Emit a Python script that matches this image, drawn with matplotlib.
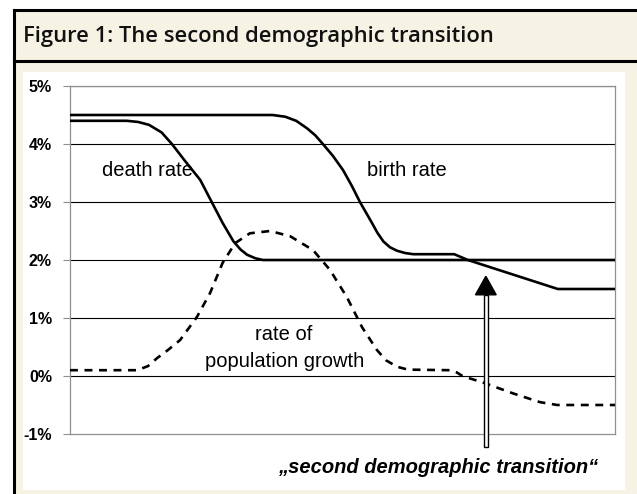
import matplotlib.pyplot as plt
from matplotlib.patches import Rectangle, Polygon

# data (x in arbitrary time units 0..100, y in %)
birth_x = [0, 37.2, 39.5, 41.5, 43.5, 45, 46.4, 48.2, 50.1, 51.7, 53.2, 54.3, 55.4, 56.4,
           57.5, 58.7, 60, 61.5, 63, 70.5, 73, 89.5, 100]
birth_y = [4.5, 4.5, 4.47, 4.4, 4.27, 4.15, 4.0, 3.8, 3.55, 3.28, 3.0, 2.82, 2.64, 2.47,
           2.32, 2.22, 2.16, 2.12, 2.1, 2.1, 2.0, 1.5, 1.5]

death_x = [0, 10.4, 12.5, 14.5, 16.8, 18.7, 21, 23.9, 26, 28, 30, 31.3, 32.5, 34, 35.4, 100]
death_y = [4.4, 4.4, 4.38, 4.33, 4.2, 4.0, 3.72, 3.38, 3.0, 2.64, 2.32, 2.18, 2.09, 2.03, 2.0, 2.0]

growth_x = [0, 12.3, 14.3, 16, 18, 20.2, 23.3, 25.7, 28, 30.3, 33, 36.7, 40.4, 44.6, 47.7,
            50.8, 53.6, 56.3, 58, 60, 62, 69.7, 71, 72, 76, 81.3, 86.2, 89.4, 100]
growth_y = [0.1, 0.1, 0.17, 0.31, 0.45, 0.62, 1.02, 1.43, 1.95, 2.29, 2.46, 2.5, 2.41, 2.17, 1.83,
            1.36, 0.84, 0.45, 0.27, 0.16, 0.11, 0.1, 0.06, 0.0, -0.12, -0.3, -0.45, -0.5, -0.5]

yticks = [-1, 0, 1, 2, 3, 4, 5]
ytick_labels = ['-1%', '0%', '1%', '2%', '3%', '4%', '5%']

arrow_x = 76.3
arrow_tip = 1.72
arrow_base = 1.40
arrow_end = -1.22

cream = '#f6f2e4'
W, H = 637, 494
fig = plt.figure(figsize=(W / 100, H / 100), dpi=100, facecolor='white')

# frame of the figure box
fig.patches.append(Rectangle((14 / W, 0), 1, 1 - 10 / H, transform=fig.transFigure,
                             facecolor=cream, edgecolor='none', zorder=-2))
fig.patches.append(Rectangle((23 / W, 4 / H), 602 / W, 418 / H, transform=fig.transFigure,
                             facecolor='white', edgecolor='none', zorder=-1))
fig.add_artist(plt.Line2D([14 / W, 14 / W], [0, 1 - 10 / H], color='black', lw=2.2,
                          transform=fig.transFigure))
fig.add_artist(plt.Line2D([14 / W, 1], [1 - 10 / H, 1 - 10 / H], color='black', lw=2.2,
                          transform=fig.transFigure))
fig.add_artist(plt.Line2D([14 / W, 1], [1 - 61 / H, 1 - 61 / H], color='black', lw=2.2,
                          transform=fig.transFigure))
fig.text(23 / W, 1 - 42 / H, 'Figure 1: The second demographic transition',
         fontsize=15.8, fontweight='semibold', family='Open Sans', va='baseline', ha='left',
         color='#111111')

ax = fig.add_axes([70 / W, 60 / H, 545 / W, 348 / H])
ax.set_zorder(2)
ax.patch.set_alpha(0)
ax.set_xlim(0, 100)
ax.set_ylim(-1, 5)
ax.set_yticks(yticks)
ax.set_yticklabels(ytick_labels, fontsize=11.5, fontweight='bold', family='Liberation Sans')
ax.set_xticks([])
for t in yticks[1:-1]:
    ax.axhline(t, color='black', lw=0.8, zorder=1)
ax.axhline(5, color='#909090', lw=0.9, zorder=1)
for s in ax.spines.values():
    s.set_color('#909090')
    s.set_linewidth(0.9)
ax.tick_params(axis='y', length=5, color='#909090', pad=8)

ax.plot(birth_x, birth_y, color='black', lw=1.9, zorder=3)
ax.plot(death_x, death_y, color='black', lw=1.9, zorder=3)
ax.plot(growth_x, growth_y, color='black', lw=1.9, ls=(0, (3, 2.5)), zorder=3)

lab = dict(fontsize=14.5, family='Liberation Sans', ha='center', va='center')
ax.text(14.2, 3.55, 'death rate', **lab)
ax.text(61.8, 3.55, 'birth rate', **lab)
ax.text(39.3, 0.72, 'rate of', **lab)
ax.text(39.3, 0.25, 'population growth', **lab)

# hollow shaft and filled head
hw = 0.42
ax.add_patch(Rectangle((arrow_x - hw, arrow_end), 2 * hw, arrow_base - arrow_end,
                       facecolor='white', edgecolor='black', lw=1.0, clip_on=False, zorder=4))
ax.add_patch(Polygon([[arrow_x - 1.9, arrow_base], [arrow_x + 1.9, arrow_base], [arrow_x, arrow_tip]],
                     closed=True, facecolor='black', edgecolor='black', clip_on=False, zorder=4))

fig.text(438 / W, 1 - 467 / H, '\u201esecond demographic transition\u201c', fontsize=14.5,
         style='italic', fontweight='bold', family='Liberation Sans', ha='center', va='center')

fig.savefig('out.png', dpi=100, facecolor='white')
